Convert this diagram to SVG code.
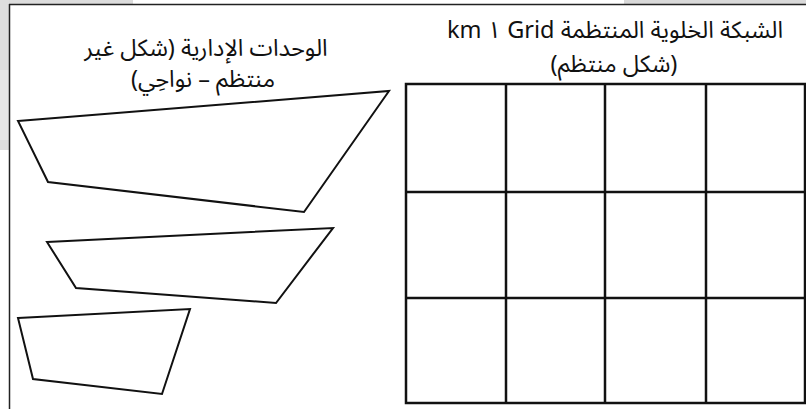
<svg xmlns="http://www.w3.org/2000/svg" width="806" height="409" viewBox="0 0 806 409">
<style>
.t{font-family:"Noto Sans Arabic","DejaVu Sans","Noto Sans",sans-serif;font-size:23.5px;fill:#111;text-anchor:middle;direction:rtl}
.p{fill:none;stroke:#111;stroke-width:2;stroke-linejoin:miter}
.g{stroke:#111;stroke-width:2.5;fill:none}
</style>
<rect x="0" y="0" width="806" height="409" fill="#fff"/>
<g id="bg">
<rect x="0" y="0" width="133" height="4" fill="#dcdcdc"/>
<rect x="0" y="0" width="9" height="150" fill="#dedede"/>
<rect x="0" y="70" width="9" height="70" fill="#e6e6e6"/>
<rect x="624" y="0" width="182" height="4" fill="#d9d9d9"/>
</g>
<g id="frame">
<line x1="9" y1="4.5" x2="806" y2="4.5" stroke="#222" stroke-width="1.5"/>
<line x1="9.5" y1="4" x2="9.5" y2="409" stroke="#222" stroke-width="1.5"/>
</g>
<g id="title-left">
<text class="t" x="206" y="56">الوحدات الإدارية (شكل غير</text>
<text class="t" x="203" y="87">منتظم – نواحِي)</text>
</g>
<g id="title-right">
<text class="t" x="615" y="38">الشبكة الخلوية المنتظمة Grid ١ km</text>
<text class="t" x="614" y="72">(شكل منتظم)</text>
</g>
<g id="unit1"><polygon class="p" points="18,121 389,91 304,212 48,182"/></g>
<g id="unit2"><polygon class="p" points="47,242 333,228 276,303 76,288"/></g>
<g id="unit3"><polygon class="p" points="18,318 190,309 162,394 33,379"/></g>
<g id="grid">
<rect class="g" x="406" y="84" width="399" height="319"/>
<line class="g" x1="506" y1="84" x2="506" y2="403"/>
<line class="g" x1="605" y1="84" x2="605" y2="403"/>
<line class="g" x1="706" y1="84" x2="706" y2="403"/>
<line class="g" x1="406" y1="192" x2="805" y2="192"/>
<line class="g" x1="406" y1="298" x2="805" y2="298"/>
</g>
</svg>
